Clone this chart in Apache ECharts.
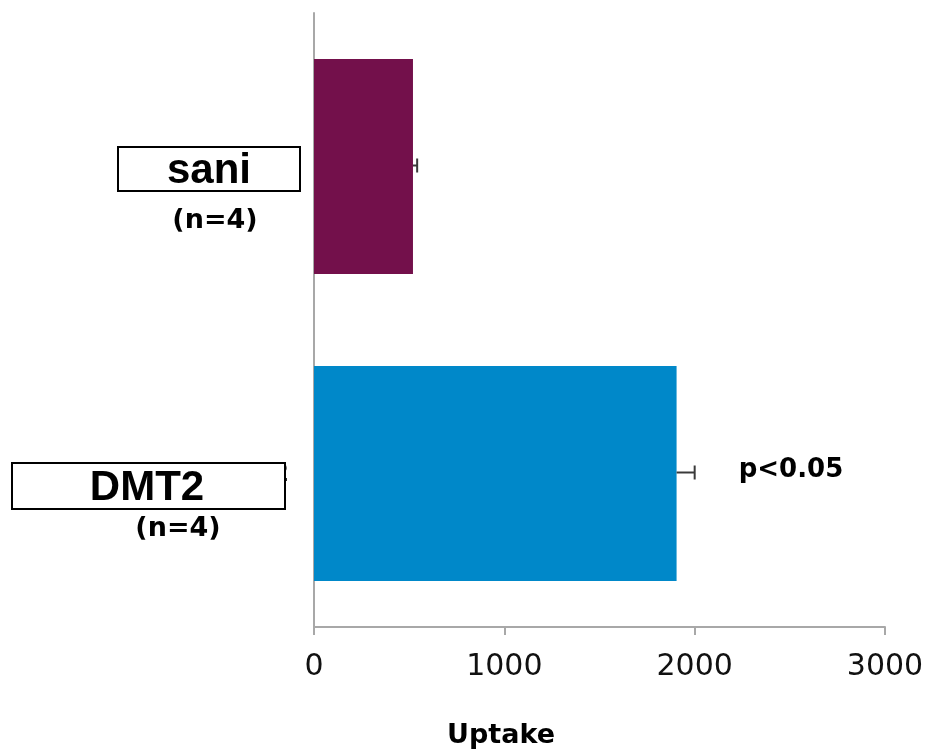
<!DOCTYPE html>
<html>
<head>
<meta charset="utf-8">
<script src="https://cdn.jsdelivr.net/npm/echarts@6/dist/echarts.min.js"></script>
<style>html,body{margin:0;padding:0;background:#fff;}#c{width:928px;height:751px;}</style>
</head>
<body>
<div id="c"></div>
<script>
// Data
const categories = ['DMT2', 'sani'];          // bottom to top
const uptakeValues = [1905, 520];
const uptakeErrors = [95, 22];
const barColors = ['#0088C9', '#73104B'];
const xTicks = [0, 1000, 2000, 3000];
const groupLabels = ['DMT2', 'sani'];
const groupN = ['(n=4)', '(n=4)'];
const axisTitle = 'Uptake';
const pNote = 'p<0.05';

const chart = echarts.init(document.getElementById('c'), null, {renderer: 'canvas'});

const errData = uptakeValues.map((v, i) => [v, v + uptakeErrors[i], i]);

const option = {
  animation: false,
  backgroundColor: '#ffffff',
  grid: {left: 314, right: 43, top: 13, bottom: 124, outerBoundsMode: 'none', containLabel: false},
  xAxis: {
    type: 'value',
    min: xTicks[0], max: xTicks[xTicks.length - 1], interval: 1000,
    axisLine: {show: true, lineStyle: {color: '#a8a8a8', width: 2}},
    axisTick: {show: true, length: 8, lineStyle: {color: '#a8a8a8', width: 2}},
    splitLine: {show: false},
    axisLabel: {color: '#111', fontFamily: 'DejaVu Sans', fontSize: 30, margin: 25,
      formatter: function (v) { return String(v); }}
  },
  yAxis: {
    type: 'category',
    data: categories,
    axisLine: {show: true, lineStyle: {color: '#a8a8a8', width: 2}},
    axisTick: {show: false},
    axisLabel: {color: '#111', fontFamily: 'Liberation Sans', fontWeight: 'bold', fontSize: 26, margin: 26}
  },
  series: [
    {
      type: 'bar',
      data: uptakeValues.map((v, i) => ({value: v, itemStyle: {color: barColors[i]}})),
      barCategoryGap: '30%',
      z: 2
    },
    {
      type: 'custom',
      data: errData,
      encode: {x: [0, 1], y: 2},
      z: 3,
      renderItem: function (params, api) {
        const y = api.value(2);
        const p0 = api.coord([api.value(0), y]);
        const p1 = api.coord([api.value(1), y]);
        const half = 7;
        const st = {stroke: '#3a3a3a', lineWidth: 2};
        return {
          type: 'group',
          children: [
            {type: 'line', shape: {x1: p0[0], y1: p0[1] - 1, x2: p1[0], y2: p0[1] - 1}, style: st},
            {type: 'line', shape: {x1: p1[0], y1: p1[1] - 1 - half, x2: p1[0], y2: p1[1] - 1 + half}, style: st}
          ]
        };
      }
    }
  ],
  graphic: [
    {type: 'rect', shape: {x: 118, y: 147, width: 182, height: 44}, style: {fill: '#fff', stroke: '#000', lineWidth: 2}, z: 10},
    {type: 'text', x: 209, y: 171, style: {text: groupLabels[1], font: 'bold 42px "Liberation Sans"', fill: '#000', align: 'center', verticalAlign: 'middle'}, z: 11},
    {type: 'text', x: 215, y: 221, style: {text: groupN[1], font: 'bold 27px "DejaVu Sans"', fill: '#000', align: 'center', verticalAlign: 'middle'}, z: 11},
    {type: 'rect', shape: {x: 12, y: 463, width: 273, height: 46}, style: {fill: '#fff', stroke: '#000', lineWidth: 2}, z: 10},
    {type: 'text', x: 147, y: 488, style: {text: groupLabels[0], font: 'bold 42px "Liberation Sans"', fill: '#000', align: 'center', verticalAlign: 'middle'}, z: 11},
    {type: 'text', x: 178, y: 529, style: {text: groupN[0], font: 'bold 27px "DejaVu Sans"', fill: '#000', align: 'center', verticalAlign: 'middle'}, z: 11},
    {type: 'text', x: 791, y: 470, style: {text: pNote, font: 'bold 26px "DejaVu Sans"', fill: '#000', align: 'center', verticalAlign: 'middle'}, z: 11},
    {type: 'text', x: 501, y: 736, style: {text: axisTitle, font: 'bold 27px "DejaVu Sans"', fill: '#000', align: 'center', verticalAlign: 'middle'}, z: 11}
  ]
};
chart.setOption(option);
</script>
</body>
</html>
